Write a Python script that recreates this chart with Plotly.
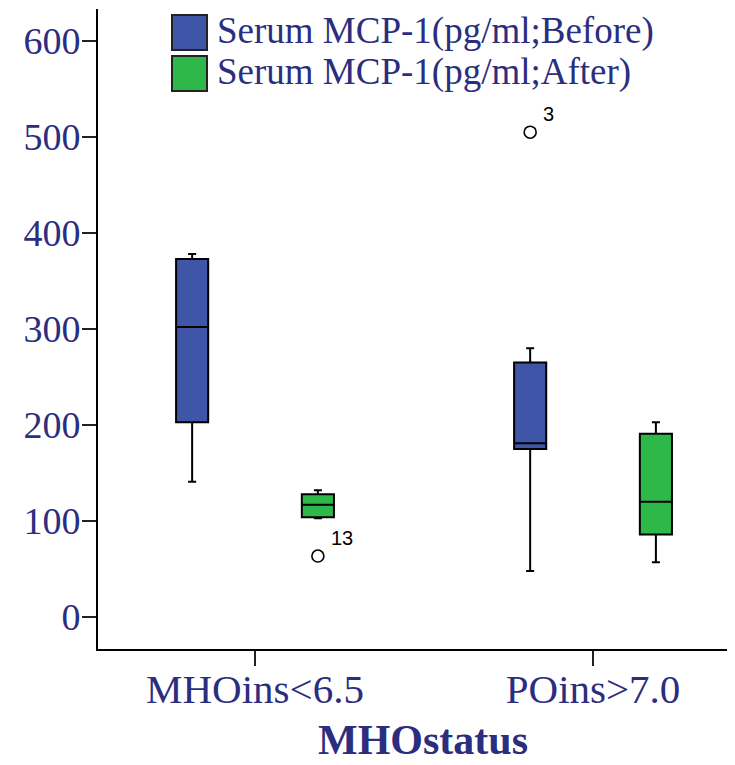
import numpy as np
import plotly.graph_objects as go

# ---- data ----
categories = ["MHOins<6.5", "POins>7.0"]
series_names = ["Serum MCP-1(pg/ml;Before)", "Serum MCP-1(pg/ml;After)"]

before_lowerfence = [141, 48]
before_q1 = [203, 175]
before_median = [302, 181]
before_q3 = [373, 265]
before_upperfence = [378, 280]

after_lowerfence = [103, 57]
after_q1 = [104, 86]
after_median = [117, 120]
after_q3 = [128, 191]
after_upperfence = [132, 203]

# outliers: (category index, series index, value, case label)
outlier_cat = [0, 1]
outlier_series = [1, 0]
outlier_value = [63.5, 505]
outlier_label = ["13", "3"]

y_ticks = [0, 100, 200, 300, 400, 500, 600]

# ---- style ----
NAVY = "#2b2e7e"
BLUE = "#3e55a8"
GREEN = "#2fb84a"
SERIF = "Liberation Serif"
offsets = [-0.186, 0.186]
box_width = 0.095

cat_pos = np.arange(len(categories), dtype=float)

fig = go.Figure()
stats = [
    (before_lowerfence, before_q1, before_median, before_q3, before_upperfence, BLUE),
    (after_lowerfence, after_q1, after_median, after_q3, after_upperfence, GREEN),
]
for i, (lf, q1, med, q3, uf, col) in enumerate(stats):
    fig.add_trace(go.Box(
        name=series_names[i],
        x=cat_pos + offsets[i],
        lowerfence=lf, q1=q1, median=med, q3=q3, upperfence=uf,
        width=box_width,
        whiskerwidth=0.25,
        fillcolor=col,
        line=dict(color="black", width=2),
        boxpoints=False,
        showlegend=False,
        hoverinfo="skip",
    ))

ox = [cat_pos[c] + offsets[s] for c, s in zip(outlier_cat, outlier_series)]
fig.add_trace(go.Scatter(
    x=ox, y=outlier_value, mode="markers",
    marker=dict(symbol="circle-open", size=12, color="black", line=dict(width=1.6)),
    showlegend=False, hoverinfo="skip",
))
for xx, yy, lab in zip(ox, outlier_value, outlier_label):
    fig.add_annotation(x=xx, y=yy, text=lab, showarrow=False,
                       xshift=11, yshift=18, xanchor="left", yanchor="middle",
                       font=dict(family="Liberation Sans", size=20, color="black"))

# ---- geometry (page pixels; the page body adds an 8px margin) ----
BODY = 8
PL, PR, PT, PB = 98, 735, 9, 649
def px(x):
    return (x - PL) / (PR - PL)
def py(y):
    return (PB - y) / (PB - PT)

leg_cols = [BLUE, GREEN]
leg_top = [15, 56]
for i, name in enumerate(series_names):
    fig.add_shape(type="rect", xref="paper", yref="paper",
                  x0=px(172), x1=px(207), y0=py(leg_top[i] + 35), y1=py(leg_top[i]),
                  fillcolor=leg_cols[i], line=dict(color="#222222", width=2))
    fig.add_annotation(xref="paper", yref="paper", x=px(215), y=py(leg_top[i] + 16),
                       text=name, showarrow=False, xanchor="left", yanchor="middle",
                       font=dict(family=SERIF, size=37, color=NAVY))

# axis title
fig.add_annotation(xref="paper", yref="paper", x=px(423), y=py(740),
                   text="<b>MHOstatus</b>", showarrow=False,
                   xanchor="center", yanchor="middle",
                   font=dict(family=SERIF, size=42, color=NAVY))

W, H = 735 - BODY, 765 - BODY
fig.update_layout(
    width=W, height=H,
    margin=dict(l=PL - BODY, r=0, t=PT - BODY, b=H + BODY - PB, pad=0),
    paper_bgcolor="white", plot_bgcolor="white",
    showlegend=False,
    xaxis=dict(
        range=[-0.4645, 1.420],
        tickmode="array", tickvals=cat_pos.tolist(), ticktext=categories,
        showgrid=False, zeroline=False,
        showline=True, linecolor="black", linewidth=2,
        ticks="outside", ticklen=15, tickwidth=2, tickcolor="#222222",
        ticklabelstandoff=-12,
        tickfont=dict(family=SERIF, size=41, color=NAVY),
    ),
    yaxis=dict(
        range=[-33.3, 633.3],
        tickmode="array", tickvals=y_ticks,
        showgrid=False, zeroline=False,
        showline=True, linecolor="black", linewidth=2,
        ticks="outside", ticklen=14, tickwidth=2, tickcolor="#222222",
        ticklabelstandoff=-6,
        tickfont=dict(family=SERIF, size=38, color=NAVY),
    ),
)

fig.write_html("out.html")
